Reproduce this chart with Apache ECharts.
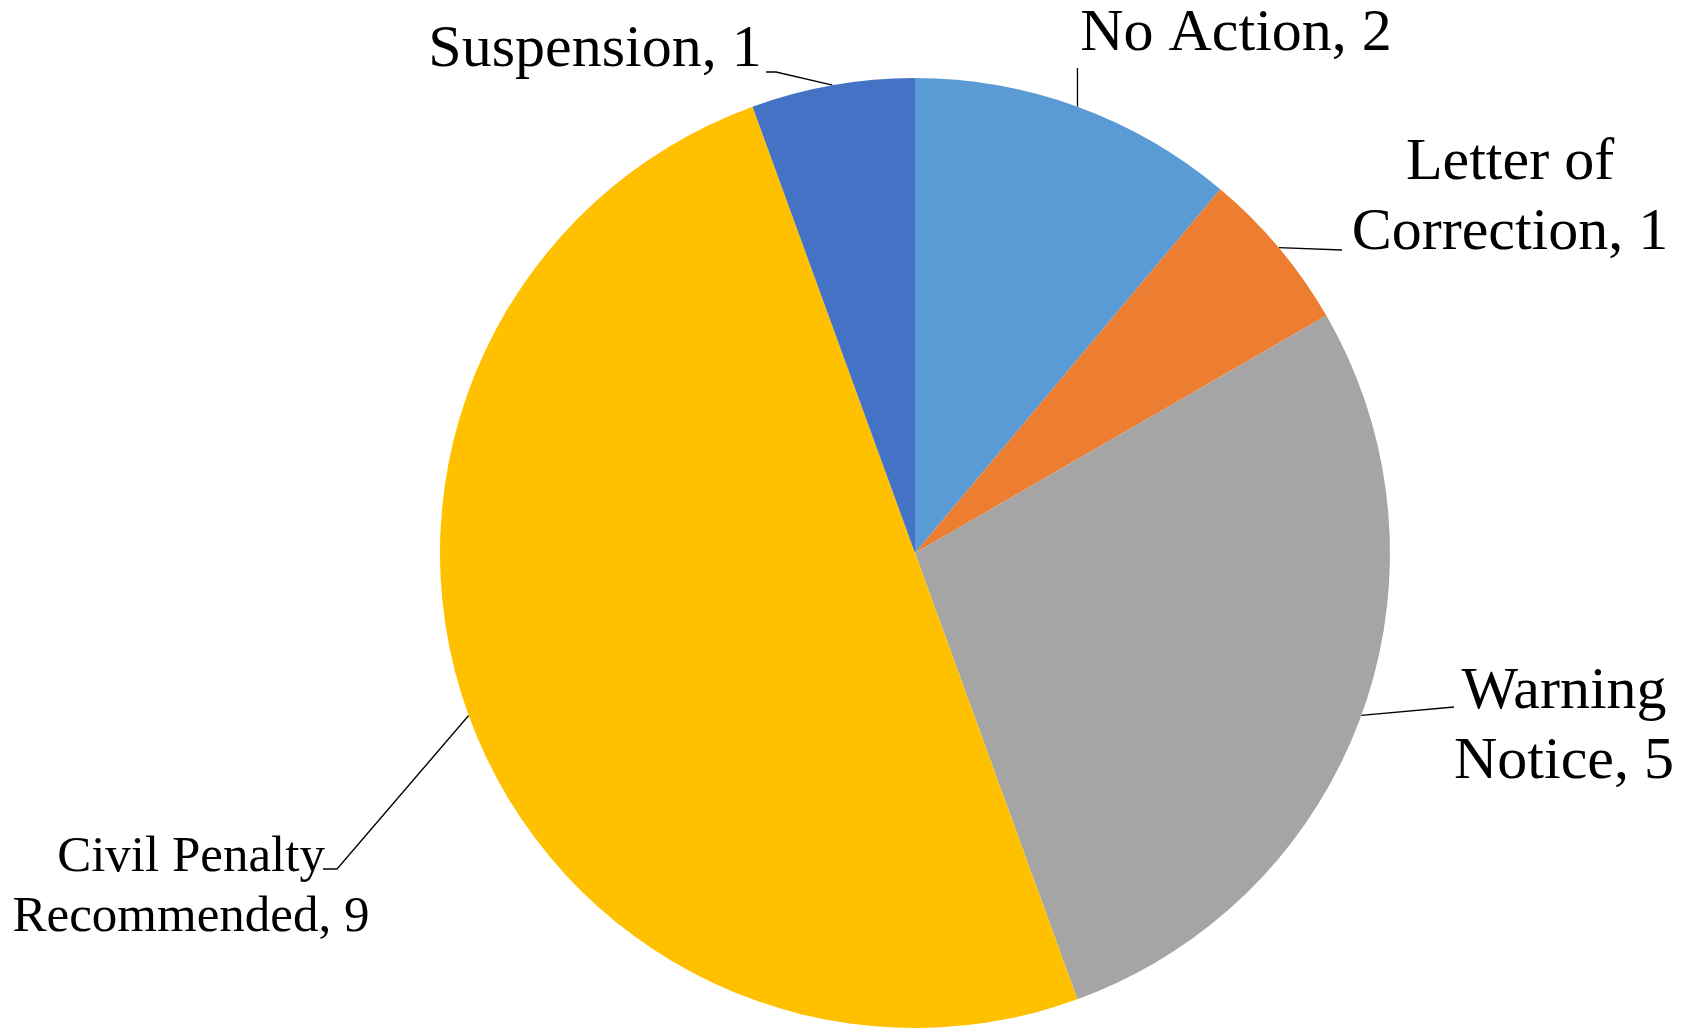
<!DOCTYPE html>
<html>
<head>
<meta charset="utf-8">
<script src="https://cdn.jsdelivr.net/npm/echarts@6/dist/echarts.min.js"></script>
<style>
  html, body { margin: 0; padding: 0; background: #ffffff; }
  #chart { width: 1686px; height: 1028px; }
</style>
</head>
<body>
<div id="chart"></div>
<script>
// Enforcement outcomes, clockwise from 12 o'clock
const categories = ['No Action', 'Letter of Correction', 'Warning Notice', 'Civil Penalty Recommended', 'Suspension'];
const counts = [2, 1, 5, 9, 1];
const sliceColors = ['#5B9BD5', '#ED7D31', '#A5A5A5', '#FFC000', '#4472C4'];
// number of words kept on the first label line (0 = single line)
const firstLineWords = [0, 2, 1, 2, 0];

// label anchors (text centre) and leader-line knees; a null x keeps the arc point's x
const labelPlacement = [
  { x: 1236, y: 34,  size: 60, lh: 70, knees: [[null, 68]] },
  { x: 1510, y: 198, size: 60, lh: 70, knees: [[1342, 250]] },
  { x: 1564, y: 727, size: 60, lh: 70, knees: [[1454, 707]] },
  { x: 191,  y: 888, size: 51, lh: 60, knees: [[337, 869], [323, 869]] },
  { x: 595,  y: 50,  size: 60, lh: 70, knees: [[776, 72], [766, 72]] }
];

function labelText(i) {
  const words = categories[i].split(' ');
  const n = firstLineWords[i];
  const text = n > 0 ? words.slice(0, n).join(' ') + '\n' + words.slice(n).join(' ') : words.join(' ');
  return text + ', ' + counts[i];
}

const chart = echarts.init(document.getElementById('chart'), null, { renderer: 'canvas' });

chart.setOption({
  backgroundColor: '#ffffff',
  animation: false,
  series: [{
    type: 'pie',
    center: [915, 553],
    radius: 475,
    startAngle: 90,
    clockwise: true,
    avoidLabelOverlap: false,
    data: categories.map((name, i) => ({
      name: name,
      value: counts[i],
      itemStyle: { color: sliceColors[i] },
      label: { fontSize: labelPlacement[i].size, lineHeight: labelPlacement[i].lh }
    })),
    label: {
      show: true,
      position: 'outside',
      overflow: 'none',
      color: '#000000',
      fontFamily: '"Liberation Serif", "Times New Roman", serif',
      align: 'center',
      formatter: p => labelText(p.dataIndex)
    },
    labelLine: {
      show: true,
      smooth: false,
      length: 10,
      length2: 10,
      lineStyle: { color: '#000000', width: 1.3 }
    },
    labelLayout: function (params) {
      const i = params.dataIndex;
      const place = labelPlacement[i];
      const arcPoint = params.labelLinePoints[0];
      const pts = [arcPoint.slice ? arcPoint.slice() : [arcPoint[0], arcPoint[1]]];
      place.knees.forEach(k => pts.push([k[0] == null ? arcPoint[0] : k[0], k[1]]));
      while (pts.length < 3) pts.push(pts[pts.length - 1].slice());
      return {
        x: place.x,
        y: place.y,
        align: 'center',
        verticalAlign: 'middle',
        labelLinePoints: pts
      };
    }
  }]
});
</script>
</body>
</html>
